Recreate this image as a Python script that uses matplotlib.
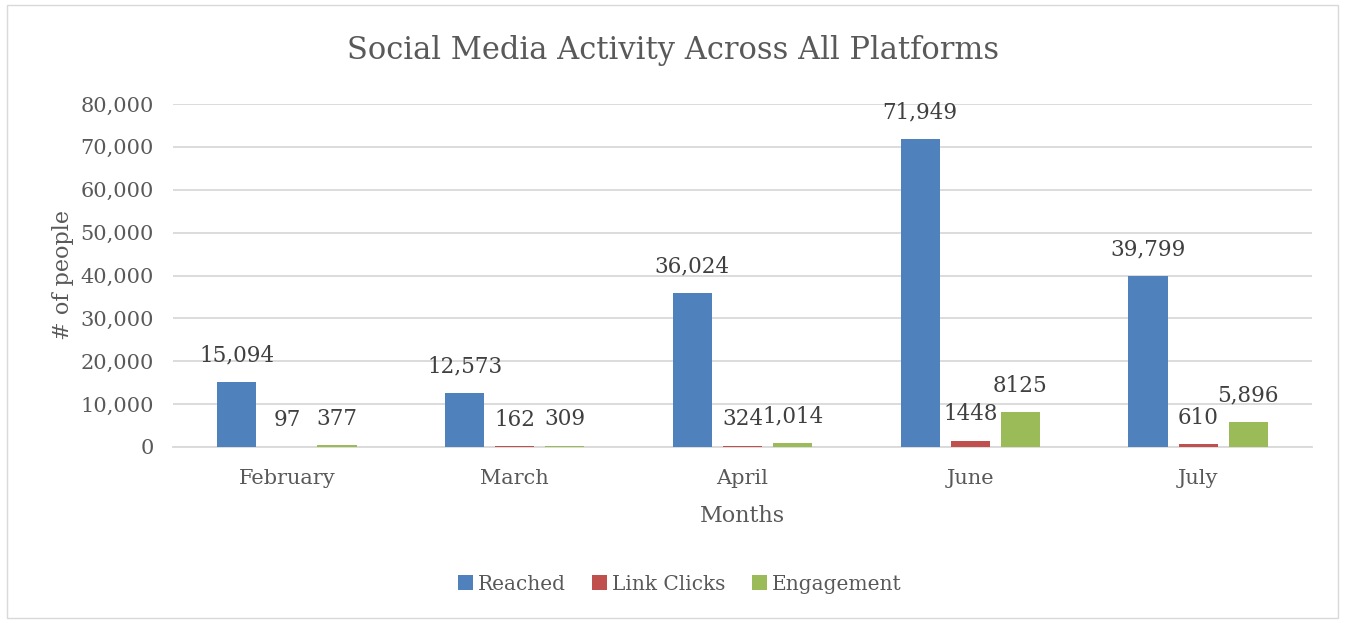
import numpy as np
import matplotlib.pyplot as plt
from matplotlib.patches import Rectangle

months = ["February", "March", "April", "June", "July"]
reached = [15094, 12573, 36024, 71949, 39799]
link_clicks = [97, 162, 324, 1448, 610]
engagement = [377, 309, 1014, 8125, 5896]
reached_lbl = ["15,094", "12,573", "36,024", "71,949", "39,799"]
clicks_lbl = ["97", "162", "324", "1448", "610"]
engage_lbl = ["377", "309", "1,014", "8125", "5,896"]

grey = "#595959"
plt.rcParams['font.family'] = ['DejaVu Serif']

fig = plt.figure(figsize=(13.46, 6.23), dpi=100)
ax = fig.add_axes([173/1346, 1 - 447/623, 1139/1346, 343/623])

# light border round the whole chart
fig.patches.append(Rectangle((7/1346, 5/623), 1331/1346, 613/623,
                             transform=fig.transFigure, fill=False,
                             edgecolor="#d9d9d9", linewidth=1))

x = np.arange(len(months))
w = 0.172
off = 0.22
series = [(reached, reached_lbl, "#4f81bd", "Reached"),
          (link_clicks, clicks_lbl, "#c0504d", "Link Clicks"),
          (engagement, engage_lbl, "#9bbb59", "Engagement")]
for i, (vals, lbls, col, name) in enumerate(series):
    xs = x + (i - 1) * off
    ax.bar(xs, vals, w, color=col, label=name, zorder=3)
    for xx, v, t in zip(xs, vals, lbls):
        ax.text(xx, v + 3600, t, ha="center", va="bottom", fontsize=15.5, color="#404040")

ax.set_xlim(-0.5, 4.5)
ax.set_ylim(0, 80000)
ax.set_yticks(range(0, 80001, 10000))
ax.set_yticklabels([f"{v:,}" for v in range(0, 80001, 10000)], fontsize=15, color=grey)
ax.set_xticks(x)
ax.set_xticklabels(months, fontsize=15, color=grey)
ax.tick_params(length=0)
ax.tick_params(axis="y", pad=14)
ax.tick_params(axis="x", pad=16)
ax.grid(axis="y", color="#d9d9d9", linewidth=1.3, zorder=0)
for s in ["top", "right", "left"]:
    ax.spines[s].set_visible(False)
ax.spines["bottom"].set_color("#d9d9d9")
ax.spines["bottom"].set_linewidth(1.3)

fig.text(0.5, 1 - 50/623, "Social Media Activity Across All Platforms", fontsize=22,
         color=grey, ha="center", va="center")
ax.set_xlabel("Months", fontsize=16, color=grey, labelpad=12)
ax.set_ylabel("# of people", fontsize=16, color=grey, labelpad=4)

ax.legend(loc="upper center", bbox_to_anchor=(0.445, -0.32), ncol=3, frameon=False,
          fontsize=14.5, labelcolor=grey, handlelength=0.75, handleheight=0.75,
          handletextpad=0.25, columnspacing=1.3)

fig.savefig("out.png", dpi=100)
